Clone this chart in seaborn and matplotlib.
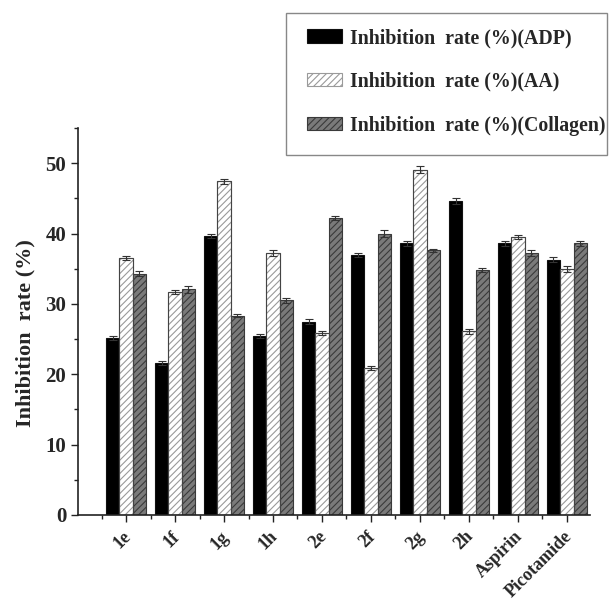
import matplotlib
matplotlib.use("Agg")
import matplotlib.pyplot as plt
import matplotlib.transforms as mtransforms
import seaborn as sns
import pandas as pd
import numpy as np
from matplotlib.patches import Patch, Rectangle
from matplotlib.ticker import MultipleLocator, FixedLocator

compounds = ["1e", "1f", "1g", "1h", "2e", "2f", "2g", "2h", "Aspirin", "Picotamide"]
series = ["Inhibition  rate (%)(ADP)", "Inhibition  rate (%)(AA)", "Inhibition  rate (%)(Collagen)"]
adp = [25.1, 21.6, 39.6, 25.4, 27.5, 37.0, 38.6, 44.6, 38.6, 36.3]
aa = [36.5, 31.7, 47.4, 37.2, 25.9, 20.9, 49.1, 26.1, 39.5, 35.0]
collagen = [34.3, 32.1, 28.3, 30.5, 42.2, 40.0, 37.6, 34.8, 37.2, 38.6]
adp_err = [0.3, 0.3, 0.3, 0.3, 0.3, 0.3, 0.4, 0.4, 0.3, 0.3]
aa_err = [0.3, 0.3, 0.4, 0.4, 0.3, 0.3, 0.5, 0.4, 0.3, 0.4]
collagen_err = [0.4, 0.5, 0.2, 0.3, 0.3, 0.5, 0.2, 0.3, 0.4, 0.4]

values = [adp, aa, collagen]
errors = [adp_err, aa_err, collagen_err]
df = pd.DataFrame({
    "compound": np.repeat([compounds], 3, axis=0).ravel(),
    "series": np.repeat(series, len(compounds)),
    "value": np.concatenate(values),
})

sns.set_style("ticks")
plt.rcParams["font.family"] = ["Liberation Serif", "DejaVu Serif"]
plt.rcParams["font.weight"] = "bold"
plt.rcParams["hatch.linewidth"] = 0.8

fig = plt.figure(figsize=(6.11, 6.01), dpi=100)
ax = fig.add_axes([78 / 611, 86 / 601, 512 / 611, 387 / 601])

faces = ["#000000", "#ffffff", "#7a7a7a"]
edges = ["#111111", "#9a9a9a", "#3a3a3a"]
hatches = [None, "/////", "/////"]

sns.barplot(data=df, x="compound", y="value", hue="series", hue_order=series,
            palette=faces, width=0.825, errorbar=None, ax=ax, legend=False,
            saturation=1)

bar_conts = list(ax.containers)
for i, cont in enumerate(bar_conts):
    for j, bar in enumerate(cont):
        bar.set_facecolor(faces[i])
        bar.set_edgecolor(edges[i])
        bar.set_linewidth(0.8)
        if hatches[i]:
            bar.set_hatch(hatches[i])
        cx = bar.get_x() + bar.get_width() / 2
        ax.errorbar(cx, bar.get_height(), yerr=errors[i][j], fmt="none",
                    ecolor="#333333", elinewidth=0.8, capsize=3, capthick=0.8)
        if i == 1:
            ax.add_patch(plt.Rectangle((bar.get_x(), 0), bar.get_width(), bar.get_height(),
                                       fill=False, edgecolor="#444444", linewidth=0.8,
                                       zorder=bar.get_zorder() + 0.1))

ax.set_xlim(-0.98, 9.47)
ax.set_ylim(0, 55)
ax.yaxis.set_major_locator(MultipleLocator(10))
ax.yaxis.set_minor_locator(MultipleLocator(5))
ax.xaxis.set_minor_locator(FixedLocator(np.arange(-0.5, 9.6, 1.0)))
ax.tick_params(axis="both", which="major", direction="out", length=5, width=1, color="#222222")
ax.tick_params(axis="both", which="minor", direction="out", length=3, width=1, color="#222222")
ax.set_yticks([0, 10, 20, 30, 40, 50])
ax.set_yticklabels(["0", "10", "20", "30", "40", "50"], fontweight="bold", fontsize=15)
ax.set_xticks(range(len(compounds)))
ax.set_xticklabels(compounds, rotation=45, ha="right", rotation_mode="anchor",
                   fontweight="bold", fontsize=13)
offset = mtransforms.ScaledTranslation(-4 / 100, -1 / 100, fig.dpi_scale_trans)
for lab in ax.get_xticklabels():
    lab.set_transform(lab.get_transform() + offset)
ax.set_xlabel("")
ax.set_ylabel("Inhibition  rate (%)", fontweight="bold", fontsize=16)
ax.yaxis.set_label_coords(-0.083, 0.47)
sns.despine(ax=ax)
for s in ["left", "bottom"]:
    ax.spines[s].set_linewidth(1.2)
    ax.spines[s].set_color("#222222")

handles = [Patch(facecolor=faces[0], edgecolor="#111111", linewidth=0.8),
           Patch(facecolor=faces[1], edgecolor="#9a9a9a", hatch=hatches[1], linewidth=0.8),
           Patch(facecolor=faces[2], edgecolor="#3a3a3a", hatch=hatches[2], linewidth=0.8)]
leg = fig.legend(handles, series, loc="upper left", bbox_to_anchor=(307 / 611, 1 - 28 / 601),
                 frameon=False, prop={"weight": "bold", "size": 14.3}, labelspacing=1.2,
                 handlelength=1.75, handleheight=0.65, borderpad=0, handletextpad=0.4,
                 borderaxespad=0)
fig.patches.append(Rectangle((286 / 611, 1 - 155 / 601), (607 - 286) / 611, (155 - 13) / 601,
                             transform=fig.transFigure, fill=False, edgecolor="#888888",
                             linewidth=1.0))

fig.savefig("out.png", dpi=100)
